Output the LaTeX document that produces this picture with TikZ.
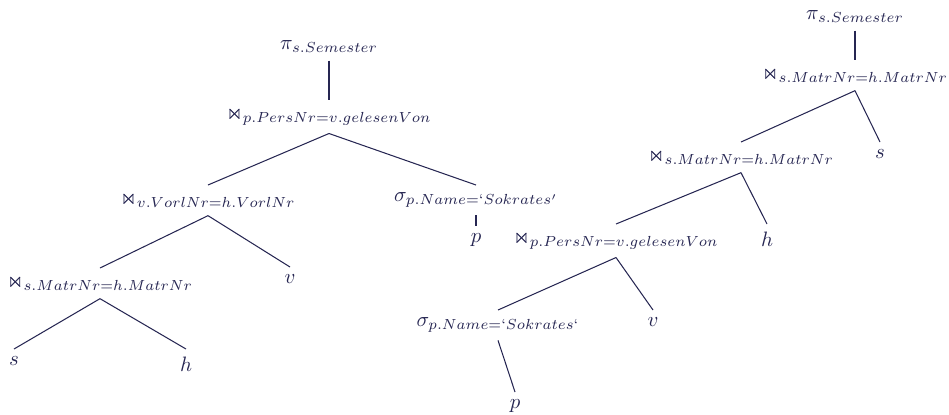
\documentclass[tikz,border=0pt]{standalone}
\usepackage{amsmath,amssymb}
\usepackage{tikz}
\definecolor{navy}{RGB}{38,38,82}

\begin{document}
\begin{tikzpicture}[
    x=0.48pt, y=-0.48pt,
    op/.style={anchor=north, text=navy, inner sep=3.5pt},
    leaf/.style={anchor=north, text=navy, inner sep=3.5pt},
    edge/.style={draw=navy, line width=0.5pt}
]
\useasboundingbox (0,0) rectangle (949,414);

% left tree
\node[op] (pi1) at (329,33) {$\pi_{s.Semester}$};
\node[op] (join1) at (329,100) {$\Join_{p.PersNr=v.gelesenVon}$};
\node[op] (join2) at (208,185) {$\Join_{v.VorlNr=h.VorlNr}$};
\node[op] (sig1) at (476,185) {$\sigma_{p.Name=`Sokrates'}$};
\node[leaf] (p1) at (476,226) {$p$};
\node[op] (join3) at (100,268) {$\Join_{s.MatrNr=h.MatrNr}$};
\node[leaf] (v1) at (290,267) {$v$};
\node[leaf] (s1) at (14,349) {$s$};
\node[leaf] (h1) at (186,349) {$h$};

\draw[edge] (pi1.south) -- (join1.north);
\draw[edge] (join1.south) -- (join2.north);
\draw[edge] (join1.south) -- (sig1.north);
\draw[edge] (sig1.south) -- (p1.north);
\draw[edge] (join2.south) -- (join3.north);
\draw[edge] (join2.south) -- (v1.north);
\draw[edge] (join3.south) -- (s1.north);
\draw[edge] (join3.south) -- (h1.north);

% right tree
\node[op] (pi2) at (855,3) {$\pi_{s.Semester}$};
\node[op] (join4) at (855,60) {$\Join_{s.MatrNr=h.MatrNr}$};
\node[op] (join5) at (741,142) {$\Join_{s.MatrNr=h.MatrNr}$};
\node[leaf] (s2) at (880,142) {$s$};
\node[op] (join6) at (616,224) {$\Join_{p.PersNr=v.gelesenVon}$};
\node[leaf] (h2) at (767,224) {$h$};
\node[op] (sig2) at (498,310) {$\sigma_{p.Name=`Sokrates`}$};
\node[leaf] (v2) at (653,310) {$v$};
\node[leaf] (p2) at (515,392) {$p$};

\draw[edge] (pi2.south) -- (join4.north);
\draw[edge] (join4.south) -- (join5.north);
\draw[edge] (join4.south) -- (s2.north);
\draw[edge] (join5.south) -- (join6.north);
\draw[edge] (join5.south) -- (h2.north);
\draw[edge] (join6.south) -- (sig2.north);
\draw[edge] (join6.south) -- (v2.north);
\draw[edge] (sig2.south) -- (p2.north);

\end{tikzpicture}
\end{document}
